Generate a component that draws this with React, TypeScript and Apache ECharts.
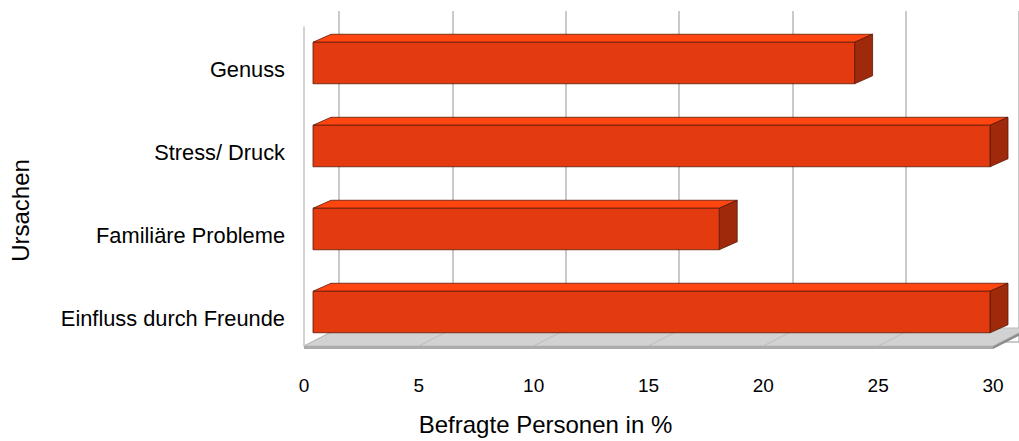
import React, { useEffect, useRef } from "react";
import * as echarts from "echarts";

const categories: string[] = ["Genuss", "Stress/ Druck", "Familiäre Probleme", "Einfluss durch Freunde"];
const values: number[] = [24, 30, 18, 30];
const axisMin = 0;
const axisMax = 30;
const axisStep = 5;
const xTitle = "Befragte Personen in %";
const yTitle = "Ursachen";

const FONT = "'Liberation Sans', Arial, sans-serif";
const DEPTH_X = 18;
const DEPTH_Y = -8;
const WALL_X = 35;
const WALL_Y = -18;

export default function App() {
  const ref = useRef<HTMLDivElement>(null);
  useEffect(() => {
    if (!ref.current) return;
    const chart = echarts.init(ref.current, undefined, { renderer: "svg" });
    const gridLine = { color: "#b8b8b8", width: 1.5 };
    const option: any = {
      animation: false,
      backgroundColor: "#ffffff",
      grid: [
        // floor / tick labels
        { left: 304, right: 26, top: 27, bottom: 84 },
        // bars
        { left: 313, right: 29, top: 27.5, bottom: 81.5 },
        // back wall
        { left: 339, right: -10, top: 11, bottom: 99 },
      ],
      xAxis: [
        {
          gridIndex: 0, type: "value", min: axisMin, max: axisMax, interval: axisStep,
          axisLine: { show: false }, axisTick: { show: false }, splitLine: { show: false },
          axisLabel: { color: "#000", fontSize: 19, fontFamily: FONT, margin: 30 },
          name: xTitle, nameLocation: "middle", nameGap: 66,
          nameTextStyle: { color: "#000", fontSize: 24, fontFamily: FONT, padding: [0, 206, 0, 0] },
        },
        {
          gridIndex: 1, type: "value", min: axisMin, max: axisMax, interval: axisStep, show: false,
        },
        {
          gridIndex: 2, type: "value", min: axisMin, max: axisMax, interval: axisStep, position: "top",
          axisLine: { show: true, lineStyle: gridLine }, axisTick: { show: false },
          axisLabel: { show: false }, splitLine: { show: true, lineStyle: gridLine },
        },
      ],
      yAxis: [
        {
          gridIndex: 0, type: "value", min: 0, max: 1,
          axisLine: { show: true, onZero: false, lineStyle: { color: "#c4c4c4", width: 1.5 } },
          axisTick: { show: false }, axisLabel: { show: false }, splitLine: { show: false },
          name: yTitle, nameLocation: "middle", nameRotate: 90, nameGap: 272,
          nameTextStyle: { color: "#000", fontSize: 24, fontFamily: FONT, padding: [0, 48, 0, 0] },
        },
        {
          gridIndex: 1, type: "category", data: categories, inverse: true,
          axisLine: { show: false }, axisTick: { show: false }, splitLine: { show: false },
          axisLabel: { color: "#000", fontSize: 21.8, fontFamily: FONT, margin: 28 },
        },
        { gridIndex: 2, type: "value", min: 0, max: 1, show: false },
      ],
      series: [
        {
          type: "custom",
          xAxisIndex: 0,
          yAxisIndex: 0,
          z: 1,
          silent: true,
          data: [[axisMin, axisMax]],
          renderItem: (params: any, api: any) => {
            const a = api.coord([api.value(0), 0]);
            const b = api.coord([api.value(1), 0]);
            const y = a[1];
            const children: any[] = [
              {
                type: "polygon",
                shape: { points: [[a[0], y], [b[0], y], [b[0] + WALL_X, y + WALL_Y], [a[0] + WALL_X, y + WALL_Y]] },
                style: { fill: "#d2d2d2", stroke: "#bdbdbd", lineWidth: 1 },
              },
              {
                type: "rect",
                shape: { x: a[0], y: y, width: b[0] - a[0], height: 3 },
                style: { fill: "#acacac" },
              },
              {
                type: "polygon",
                shape: { points: [[b[0], y], [b[0] + WALL_X, y + WALL_Y], [b[0] + WALL_X, y + WALL_Y + 3], [b[0], y + 3]] },
                style: { fill: "#8a8a8a" },
              },
            ];
            for (let v = axisMin; v <= axisMax; v += axisStep) {
              const p = api.coord([v, 0]);
              children.push({
                type: "line",
                shape: { x1: p[0], y1: p[1], x2: p[0] + WALL_X, y2: p[1] + WALL_Y },
                style: { stroke: "#bcbcbc", lineWidth: 1 },
              });
            }
            return { type: "group", children };
          },
        },
        {
          type: "custom",
          xAxisIndex: 1,
          yAxisIndex: 1,
          z: 3,
          data: values.map((v, i) => [v, i]),
          encode: { x: 0, y: 1 },
          renderItem: (params: any, api: any) => {
            const v = api.value(0);
            const c = api.value(1);
            const p0 = api.coord([0, c]);
            const p1 = api.coord([v, c]);
            const band = api.size([0, 1])[1];
            const h = band * 0.5;
            const yc = p0[1] - 6;
            const x0 = p0[0];
            const x1 = p1[0];
            const t = yc - h / 2;
            const bt = yc + h / 2;
            const stroke = "#5a1806";
            return {
              type: "group",
              children: [
                {
                  type: "polygon",
                  shape: { points: [[x0, t], [x1, t], [x1 + DEPTH_X, t + DEPTH_Y], [x0 + DEPTH_X, t + DEPTH_Y]] },
                  style: { fill: "#ff4611", stroke, lineWidth: 0.8 },
                },
                {
                  type: "polygon",
                  shape: { points: [[x1, t], [x1 + DEPTH_X, t + DEPTH_Y], [x1 + DEPTH_X, bt + DEPTH_Y], [x1, bt]] },
                  style: { fill: "#9e2a0b", stroke, lineWidth: 0.8 },
                },
                {
                  type: "rect",
                  shape: { x: x0, y: t, width: x1 - x0, height: h },
                  style: { fill: "#e33b0f", stroke, lineWidth: 0.8 },
                },
              ],
            };
          },
        },
      ],
    };
    chart.setOption(option);
    return () => chart.dispose();
  }, []);
  return <div ref={ref} style={{ position: "fixed", left: 0, top: 0, width: 1019, height: 441 }} />;
}
